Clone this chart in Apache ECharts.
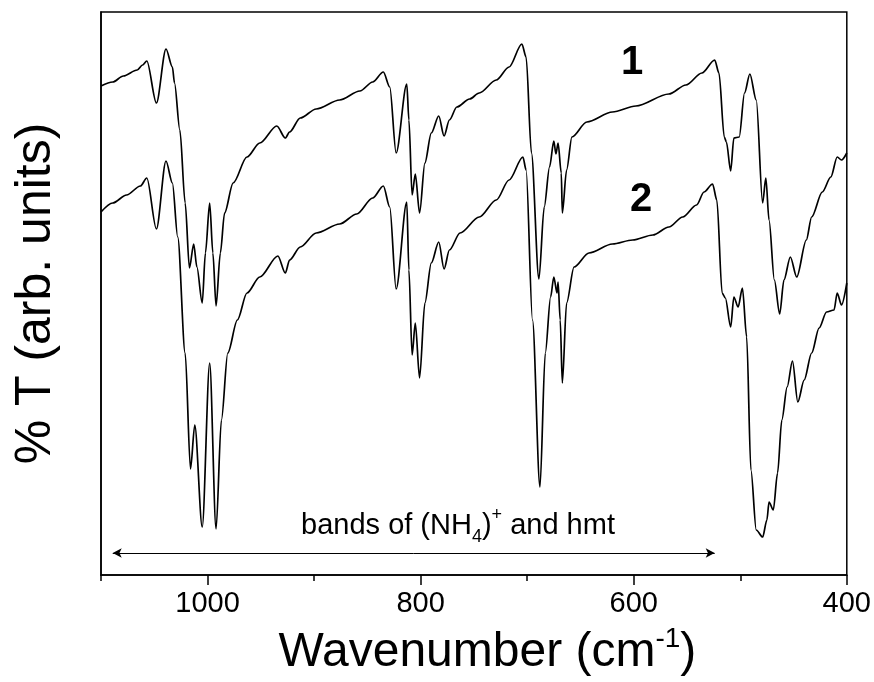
<!DOCTYPE html>
<html>
<head>
<meta charset="utf-8">
<script src="https://cdn.jsdelivr.net/npm/echarts@6/dist/echarts.min.js"></script>
<style>
  html, body { margin: 0; padding: 0; background: #fff; }
  #chart { width: 874px; height: 682px; }
</style>
</head>
<body>
<div id="chart"></div>
<script>
// spectrum 1 (upper trace)
const wn1 = [1100,1089,1079,1066,1061,1057,1048,1039,1033,1031,1026,1021,1017,1013,1010,1005,1002,998,995,992,
  988,984,976,963,951,935,927,923,913,898,876,857,845,835,829,823,813,811,808,805,
  801,796,790,783,778,773,766,754,745,729,717,705,701,696,689,684,679,675,673,671,
  668,667,663,658,644,620,598,567,551,536,524,520,515,513,509,506,501,496,491,485,
  479,476,473,468,463,459,453,447,438,433,423,415,409,405,400];
const t1 = [48.9,49.3,49.9,50.5,51.0,51.4,47.2,52.6,50.8,49.2,44.5,37.2,30.7,33.1,30.8,27.2,32.2,37.2,32.2,26.9,
  32.2,36.2,39.2,41.8,43.2,44.9,43.7,44.3,45.7,46.6,47.5,48.4,49.3,50.3,48.8,42.2,49.1,45.5,38.0,40.1,
  36.2,41.2,44.2,45.9,43.9,45.5,46.8,47.6,48.2,49.5,50.8,53.1,51.8,42.2,29.6,36.8,40.8,43.4,42.1,43.2,
  40.2,36.2,40.5,43.8,45.3,46.3,46.9,48.1,49.0,50.2,51.5,50.2,43.8,43.3,40.4,43.7,43.8,48.2,50.1,47.5,
  37.2,39.7,35.5,29.5,26.1,29.5,31.8,29.8,33.5,35.8,38.3,39.8,41.8,41.5,42.2];

// spectrum 2 (lower trace)
const wn2 = [1100,1089,1076,1063,1057,1048,1039,1033,1028,1021,1016,1012,1005,998,992,987,981,972,963,951,
  934,927,923,913,898,876,860,845,835,829,823,813,811,808,805,801,796,790,783,778,
  773,763,745,729,717,704,701,695,688,683,678,675,672,671,669,667,663,656,642,620,
  601,582,567,554,541,534,526,522,517,514,509,506,502,498,494,490,485,479,475,473,
  469,465,461,456,451,446,440,433,426,419,412,409,405,400];
const t2 = [36.3,37.2,38.0,38.9,39.7,34.6,41.4,39.2,33.8,22.2,10.6,15.0,4.8,21.2,4.6,15.5,22.2,25.5,28.2,29.8,
  31.9,30.2,31.5,32.8,34.2,35.1,36.1,37.7,38.9,36.8,28.6,37.3,30.5,22.0,25.2,19.7,27.2,31.2,33.3,30.6,
  32.5,34.2,35.8,37.5,39.5,41.8,40.5,25.5,8.8,22.2,27.8,29.8,28.2,29.3,25.5,19.2,27.2,30.8,32.2,33.1,
  33.5,34.0,34.8,35.8,37.0,38.3,39.1,37.5,28.2,27.7,24.8,27.8,26.8,28.7,23.8,10.5,4.5,3.8,5.5,7.3,
  6.5,10.2,15.5,18.8,21.4,17.3,19.5,22.2,24.7,26.3,26.5,28.2,27.0,29.2];

const majorTicks = [400, 600, 800, 1000];
const minorTicks = [500, 700, 900, 1100];
const bandRange = [1089, 524];   // double arrow "bands of (NH4)+ and hmt"
const arrowLevel = 2.2;

const font = "'Liberation Sans', Arial, sans-serif";
const zip = (xs, ys) => xs.map((x, i) => [x, ys[i]]);

const chart = echarts.init(document.getElementById('chart'));

const lineSeries = (name, data) => ({
  name: name,
  type: 'line',
  data: data,
  showSymbol: false,
  smooth: 0.3,
  smoothMonotone: 'x',
  lineStyle: { color: '#000', width: 1.7 },
  silent: true
});

const s1 = lineSeries('1', zip(wn1, t1));
s1.markLine = {
  silent: true,
  symbol: ['arrow', 'arrow'],
  symbolSize: [7, 9],
  label: { show: false },
  lineStyle: { color: '#000', width: 1, type: 'solid' },
  data: [[{ coord: [bandRange[0], arrowLevel] }, { coord: [bandRange[1], arrowLevel] }]]
};

chart.setOption({
  animation: false,
  backgroundColor: '#fff',
  grid: { left: 101, right: 26, top: 12, bottom: 107, show: true, borderColor: '#000', borderWidth: 1.5 },
  xAxis: [{
    type: 'value', min: 400, max: 1100, inverse: true,
    axisLine: { lineStyle: { color: '#000', width: 1.5 } },
    axisTick: { customValues: majorTicks, length: 10, lineStyle: { color: '#000', width: 1.5 } },
    axisLabel: { customValues: majorTicks, formatter: v => String(v), margin: 14, fontSize: 29, color: '#000', fontFamily: font },
    splitLine: { show: false },
    name: '{a|Wavenumber (cm}{s|-1}{a|)}',
    nameLocation: 'middle',
    nameGap: 50,
    nameTextStyle: {
      padding: [0, 0, 0, 27],
      rich: {
        a: { fontSize: 48, lineHeight: 56, color: '#000', fontFamily: font },
        s: { fontSize: 28, lineHeight: 56, verticalAlign: 'top', color: '#000', fontFamily: font }
      }
    }
  }, {
    type: 'value', min: 400, max: 1100, inverse: true, position: 'bottom',
    axisLine: { show: false },
    axisTick: { customValues: minorTicks, length: 6, lineStyle: { color: '#000', width: 1.5 } },
    axisLabel: { show: false },
    splitLine: { show: false }
  }],
  yAxis: {
    type: 'value', min: 0, max: 56.3,
    axisLine: { show: true, lineStyle: { color: '#000', width: 1.5 } },
    axisTick: { show: false },
    axisLabel: { show: false },
    splitLine: { show: false },
    name: '% T (arb. units)',
    nameLocation: 'middle',
    nameGap: 40,
    nameTextStyle: { fontSize: 50, color: '#000', fontFamily: font }
  },
  graphic: [
    { type: 'text', x: 632, y: 63, style: { text: '1', fontSize: 40, fontWeight: 'bold', fontFamily: font, fill: '#000', align: 'center', verticalAlign: 'middle' } },
    { type: 'text', x: 641, y: 200, style: { text: '2', fontSize: 40, fontWeight: 'bold', fontFamily: font, fill: '#000', align: 'center', verticalAlign: 'middle' } },
    { type: 'text', x: 458, y: 526, style: {
        text: '{t|bands of (NH}{b|4}{t|)}{p|+}{t| and hmt}',
        align: 'center', verticalAlign: 'middle',
        rich: {
          t: { fontSize: 29, lineHeight: 40, fontFamily: font, fill: '#000' },
          b: { fontSize: 18, lineHeight: 16, verticalAlign: 'bottom', fontFamily: font, fill: '#000' },
          p: { fontSize: 18, lineHeight: 20, verticalAlign: 'top', fontFamily: font, fill: '#000' }
        }
    } }
  ],
  series: [s1, lineSeries('2', zip(wn2, t2))]
});
</script>
</body>
</html>
